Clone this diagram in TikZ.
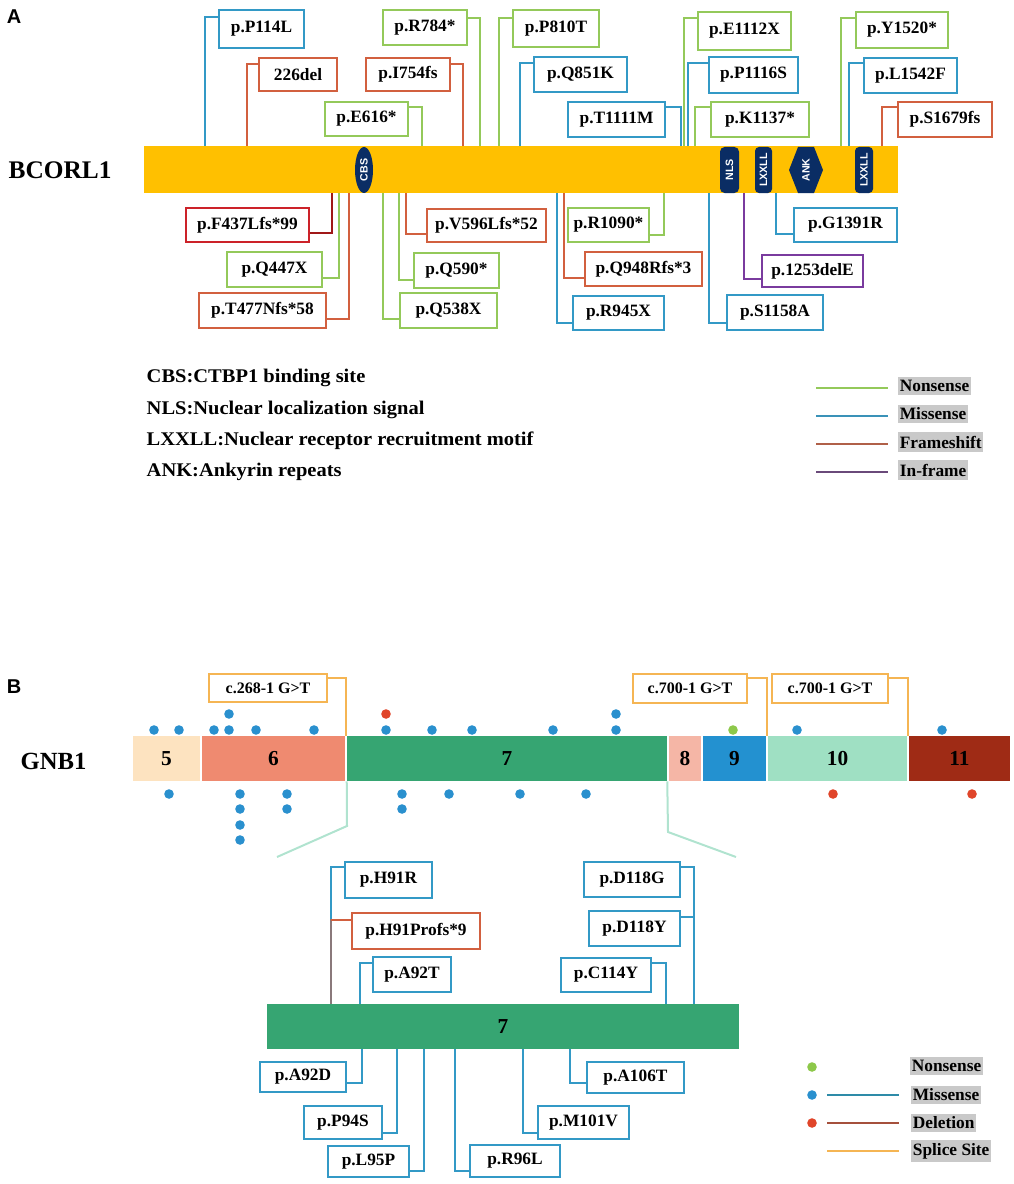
\documentclass[tikz,border=0pt]{standalone}
\usepackage{fontspec}
\setmainfont{Liberation Serif}
\newfontfamily\sansf{Liberation Sans}
\newfontfamily\legfam{Liberation Serif}[FakeStretch=1.06]
\usetikzlibrary{shapes.geometric}
\definecolor{barorange}{HTML}{FFC000}
\definecolor{navy}{HTML}{0A2D64}
\definecolor{cnons}{HTML}{94C95A}
\definecolor{cmiss}{HTML}{3399C6}
\definecolor{cfram}{HTML}{D2603F}
\definecolor{cred}{HTML}{CC2229}
\definecolor{cdred}{HTML}{A01818}
\definecolor{cpurp}{HTML}{7A3B9E}
\definecolor{lgray}{HTML}{C9C9C9}
\definecolor{lkmiss}{HTML}{3A92B8}
\definecolor{lkfram}{HTML}{B06048}
\definecolor{lkinfr}{HTML}{6A4A7A}
\definecolor{exa}{HTML}{FDE3C0}
\definecolor{exb}{HTML}{EF8A70}
\definecolor{exc}{HTML}{36A572}
\definecolor{exd}{HTML}{F5B6A6}
\definecolor{exe}{HTML}{2391D0}
\definecolor{exf}{HTML}{9FE0C3}
\definecolor{exg}{HTML}{9F2B15}
\definecolor{csplc}{HTML}{F5B553}
\definecolor{dblue}{HTML}{2A90CE}
\definecolor{dred}{HTML}{E0452A}
\definecolor{dgreen}{HTML}{8DC84A}
\definecolor{expl}{HTML}{B0E3CF}
\definecolor{lbmiss}{HTML}{2E8BA8}
\definecolor{lbdel}{HTML}{A5503C}
\newcommand\labf{\fontsize{13}{15}\selectfont\bfseries}
\newcommand\splf{\fontsize{12}{14}\selectfont\bfseries}
\newcommand\domf{\sansf\fontsize{8}{9}\selectfont\bfseries}
\newcommand\legf{\legfam\fontsize{14.5}{16}\selectfont\bfseries}
\newcommand\keyf{\fontsize{13}{15}\selectfont\bfseries}
\newcommand\exf{\fontsize{16}{18}\selectfont\bfseries}
% name, style, x1, y1, x2, y2, text
\newcommand\lbox[7]{\node[#2, minimum width={(#5-#3)*0.75pt}, minimum height={(#6-#4)*0.75pt}] (#1) at ({(#3+#5)/2},{(#4+#6)/2}) {#7};}
\begin{document}
\begin{tikzpicture}[x=0.75pt,y=-0.75pt,
  lab/.style={draw=#1, line width=1.5pt, fill=white, inner sep=0pt, font=\labf},
  slab/.style={draw=csplc, line width=1.5pt, fill=white, inner sep=0pt, font=\splf},
  conn/.style={line width=1.1pt},
  nons/.style={conn, draw=cnons},
  miss/.style={conn, draw=cmiss},
  fram/.style={conn, draw=cfram},
  redc/.style={conn, draw=cdred},
  infr/.style={conn, draw=cpurp},
  splc/.style={conn, draw=csplc},
  dom/.style={fill=navy, inner sep=0pt, rotate=90, text=white, font=\domf},
  exon/.style={fill=#1, inner sep=0pt, font=\exf},
  keylab/.style={anchor=west, fill=lgray, inner xsep=1.2pt, inner ysep=2.5pt, font=\keyf},
]
\useasboundingbox (0,0) rectangle (1013,1184);

%% ================= Panel A =================
\node[font=\sansf\fontsize{15}{17}\selectfont\bfseries] (pa) at (14,17) {A};
\node[anchor=west, font=\fontsize{19}{22}\selectfont\bfseries] (gname) at (4,170) {BCORL1};
\lbox{bcorl}{fill=barorange, inner sep=0pt}{144}{146}{898}{193}{}

% domains
\node[dom, ellipse, minimum width=34.5pt, minimum height=13.5pt] (cbs) at (364,170) {CBS};
\node[dom, rectangle, rounded corners=3.5pt, minimum width=34.5pt, minimum height=14.25pt] (nls) at (729.5,170) {NLS};
\node[dom, rectangle, rounded corners=3pt, minimum width=34.5pt, minimum height=12.75pt] (lx1) at (763.5,170) {LXXLL};
\fill[navy] (789,170) -- (798,147) -- (814,147) -- (823,170) -- (814,193) -- (798,193) -- cycle;
\node[dom, fill=none] (ank) at (806,170) {ANK};
\node[dom, rectangle, rounded corners=3pt, minimum width=34.5pt, minimum height=13.5pt] (lx2) at (864,170) {LXXLL};

% upper labels
\lbox{P114L}{lab=cmiss}{219}{10}{304}{48}{p.P114L}
\lbox{d226}{lab=cfram}{259}{58}{337}{91}{226del}
\lbox{I754fs}{lab=cfram}{366}{58}{450}{91}{p.I754fs}
\lbox{E616}{lab=cnons}{325}{102}{408}{136}{p.E616*}
\lbox{R784}{lab=cnons}{383}{10}{467}{45}{p.R784*}
\lbox{P810T}{lab=cnons}{513}{10}{599}{47}{p.P810T}
\lbox{Q851K}{lab=cmiss}{534}{57}{627}{92}{p.Q851K}
\lbox{T1111M}{lab=cmiss}{568}{102}{665}{137}{p.T1111M}
\lbox{E1112X}{lab=cnons}{698}{12}{791}{50}{p.E1112X}
\lbox{P1116S}{lab=cmiss}{709}{57}{798}{93}{p.P1116S}
\lbox{K1137}{lab=cnons}{711}{102}{809}{137}{p.K1137*}
\lbox{Y1520}{lab=cnons}{856}{12}{948}{48}{p.Y1520*}
\lbox{L1542F}{lab=cmiss}{864}{58}{957}{93}{p.L1542F}
\lbox{S1679fs}{lab=cfram}{898}{102}{992}{137}{p.S1679fs}

\draw[miss] (205,0 |- bcorl.north) |- (P114L.west |- 0,17);
\draw[fram] (247,0 |- bcorl.north) |- (d226.west |- 0,64);
\draw[fram] (463,0 |- bcorl.north) |- (I754fs.east |- 0,64);
\draw[nons] (422,0 |- bcorl.north) |- (E616.east |- 0,107);
\draw[nons] (480,0 |- bcorl.north) |- (R784.east |- 0,18);
\draw[nons] (499,0 |- bcorl.north) |- (P810T.west |- 0,18);
\draw[miss] (520,0 |- bcorl.north) |- (Q851K.west |- 0,63);
\draw[miss] (681,0 |- bcorl.north) |- (T1111M.east |- 0,107);
\draw[nons] (684,0 |- bcorl.north) |- (E1112X.west |- 0,18);
\draw[miss] (688,0 |- bcorl.north) |- (P1116S.west |- 0,63);
\draw[nons] (695,0 |- bcorl.north) |- (K1137.west |- 0,107);
\draw[nons] (841,0 |- bcorl.north) |- (Y1520.west |- 0,18);
\draw[miss] (849,0 |- bcorl.north) |- (L1542F.west |- 0,63);
\draw[fram] (882,0 |- bcorl.north) |- (S1679fs.west |- 0,107);

% lower labels
\lbox{F437}{lab=cred}{186}{208}{309}{242}{p.F437Lfs*99}
\lbox{Q447X}{lab=cnons}{227}{252}{322}{287}{p.Q447X}
\lbox{T477}{lab=cfram}{199}{293}{326}{328}{p.T477Nfs*58}
\lbox{V596}{lab=cfram}{427}{209}{546}{242}{p.V596Lfs*52}
\lbox{Q590}{lab=cnons}{414}{253}{499}{288}{p.Q590*}
\lbox{Q538X}{lab=cnons}{400}{293}{497}{328}{p.Q538X}
\lbox{R1090}{lab=cnons}{568}{208}{649}{242}{p.R1090*}
\lbox{Q948}{lab=cfram}{585}{252}{702}{286}{p.Q948Rfs*3}
\lbox{R945X}{lab=cmiss}{573}{296}{664}{330}{p.R945X}
\lbox{S1158A}{lab=cmiss}{727}{295}{823}{330}{p.S1158A}
\lbox{d1253}{lab=cpurp}{762}{255}{863}{287}{p.1253delE}
\lbox{G1391R}{lab=cmiss}{794}{208}{897}{242}{p.G1391R}

\draw[redc] (332,0 |- bcorl.south) |- (F437.east |- 0,233);
\draw[nons] (339,0 |- bcorl.south) |- (Q447X.east |- 0,278);
\draw[fram] (349,0 |- bcorl.south) |- (T477.east |- 0,319);
\draw[fram] (406,0 |- bcorl.south) |- (V596.west |- 0,234);
\draw[nons] (399,0 |- bcorl.south) |- (Q590.west |- 0,280);
\draw[nons] (383,0 |- bcorl.south) |- (Q538X.west |- 0,319);
\draw[nons] (664,0 |- bcorl.south) |- (R1090.east |- 0,235);
\draw[fram] (564,0 |- bcorl.south) |- (Q948.west |- 0,278);
\draw[miss] (557,0 |- bcorl.south) |- (R945X.west |- 0,323);
\draw[miss] (709,0 |- bcorl.south) |- (S1158A.west |- 0,323);
\draw[infr] (744,0 |- bcorl.south) |- (d1253.west |- 0,279);
\draw[miss] (776,0 |- bcorl.south) |- (G1391R.west |- 0,234);

% legend A
\node[anchor=west, font=\legf] (lcbs) at (142,378) {CBS:CTBP1 binding site};
\node[anchor=west, font=\legf] (lnls) at (142,410) {NLS:Nuclear localization signal};
\node[anchor=west, font=\legf] (llx) at (142,441) {LXXLL:Nuclear receptor recruitment motif};
\node[anchor=west, font=\legf] (lank) at (142,472) {ANK:Ankyrin repeats};

\node[keylab] (knons) at (898,386) {Nonsense};
\node[keylab] (kmiss) at (898,414) {Missense};
\node[keylab] (kfram) at (898,442) {Frameshift};
\node[keylab] (kinfr) at (898,470) {In-frame};
\draw[conn, draw=cnons] (816,388) -- (888,388);
\draw[conn, draw=lkmiss] (816,416) -- (888,416);
\draw[conn, draw=lkfram] (816,444) -- (888,444);
\draw[conn, draw=lkinfr] (816,472) -- (888,472);

%% ================= Panel B =================
\node[font=\sansf\fontsize{15}{17}\selectfont\bfseries] (pb) at (14,687) {B};
\node[anchor=west, font=\fontsize{18.5}{22}\selectfont\bfseries] (gnb) at (16,761) {GNB1};

\lbox{ex5}{exon=exa}{133}{736}{200}{781}{5}
\lbox{ex6}{exon=exb}{202}{736}{345}{781}{6}
\lbox{ex7}{exon=exc}{347}{736}{667}{781}{7}
\lbox{ex8}{exon=exd}{669}{736}{701}{781}{8}
\lbox{ex9}{exon=exe}{703}{736}{766}{781}{9}
\lbox{ex10}{exon=exf}{768}{736}{907}{781}{10}
\lbox{ex11}{exon=exg}{909}{736}{1010}{781}{11}

% splice sites
\lbox{s268}{slab}{209}{674}{327}{702}{c.268-1 G>T}
\lbox{s700a}{slab}{633}{674}{747}{703}{c.700-1 G>T}
\lbox{s700b}{slab}{772}{674}{888}{703}{c.700-1 G>T}
\draw[splc] (s268.east |- 0,678) -| (346,0 |- ex7.north);
\draw[splc] (s700a.east |- 0,678) -| (767,0 |- ex10.north);
\draw[splc] (s700b.east |- 0,678) -| (908,0 |- ex11.north);

% dots above
\foreach \x in {154,179,214,229,256,314,386,432,472,553,616,797,942}
  \fill[dblue] (\x,730) circle (3.6pt);
\fill[dblue] (229,714) circle (3.6pt);
\fill[dblue] (616,714) circle (3.6pt);
\fill[dred] (386,714) circle (3.6pt);
\fill[dgreen] (733,730) circle (3.6pt);
% dots below
\foreach \x in {169,240,287,402,449,520,586}
  \fill[dblue] (\x,794) circle (3.6pt);
\foreach \y in {809,825,840}
  \fill[dblue] (240,\y) circle (3.6pt);
\fill[dblue] (287,809) circle (3.6pt);
\fill[dblue] (402,809) circle (3.6pt);
\fill[dred] (833,794) circle (3.6pt);
\fill[dred] (972,794) circle (3.6pt);

% expansion lines
\draw[line width=1.5pt, draw=expl] (ex7.south west) -- (347,826) -- (277,857);
\draw[line width=1.5pt, draw=expl] (ex7.south east) -- (668,832) -- (736,857);

% zoomed exon 7
\lbox{ex7z}{exon=exc}{267}{1004}{739}{1049}{7}

\lbox{H91R}{lab=cmiss}{345}{862}{432}{898}{p.H91R}
\lbox{H91P}{lab=cfram}{352}{913}{480}{949}{p.H91Profs*9}
\lbox{A92T}{lab=cmiss}{373}{957}{451}{992}{p.A92T}
\lbox{D118G}{lab=cmiss}{584}{862}{680}{897}{p.D118G}
\lbox{D118Y}{lab=cmiss}{589}{911}{680}{946}{p.D118Y}
\lbox{C114Y}{lab=cmiss}{561}{958}{651}{992}{p.C114Y}
\lbox{A92D}{lab=cmiss}{260}{1062}{346}{1092}{p.A92D}
\lbox{P94S}{lab=cmiss}{304}{1106}{382}{1139}{p.P94S}
\lbox{L95P}{lab=cmiss}{328}{1146}{409}{1177}{p.L95P}
\lbox{R96L}{lab=cmiss}{470}{1145}{560}{1177}{p.R96L}
\lbox{M101V}{lab=cmiss}{538}{1106}{629}{1139}{p.M101V}
\lbox{A106T}{lab=cmiss}{587}{1062}{684}{1093}{p.A106T}

\draw[miss] (331,0 |- ex7z.north) |- (H91R.west |- 0,867);
\draw[fram, opacity=0.55] (331,0 |- ex7z.north) |- (H91P.west |- 0,920);
\draw[fram] (331,920) -- (H91P.west |- 0,920);
\draw[miss] (360,0 |- ex7z.north) |- (A92T.west |- 0,963);
\draw[miss] (694,0 |- ex7z.north) |- (D118G.east |- 0,867);
\draw[miss] (694,917) -- (D118Y.east |- 0,917);
\draw[miss] (666,0 |- ex7z.north) |- (C114Y.east |- 0,963);
\draw[miss] (362,0 |- ex7z.south) |- (A92D.east |- 0,1083);
\draw[miss] (397,0 |- ex7z.south) |- (P94S.east |- 0,1133);
\draw[miss] (424,0 |- ex7z.south) |- (L95P.east |- 0,1171);
\draw[miss] (455,0 |- ex7z.south) |- (R96L.west |- 0,1171);
\draw[miss] (523,0 |- ex7z.south) |- (M101V.west |- 0,1133);
\draw[miss] (570,0 |- ex7z.south) |- (A106T.west |- 0,1083);

% legend B
\fill[dgreen] (812,1067) circle (3.6pt);
\fill[dblue] (812,1095) circle (3.6pt);
\fill[dred] (812,1123) circle (3.6pt);
\draw[conn, draw=lbmiss] (827,1095) -- (899,1095);
\draw[conn, draw=lbdel] (827,1123) -- (899,1123);
\draw[conn, draw=csplc] (827,1151) -- (899,1151);
\node[keylab] (bnons) at (910,1066) {Nonsense};
\node[keylab] (bmiss) at (911,1095) {Missense};
\node[keylab] (bdel) at (911,1123) {Deletion};
\node[keylab] (bspl) at (911,1151) {Splice Site};
\end{tikzpicture}
\end{document}
